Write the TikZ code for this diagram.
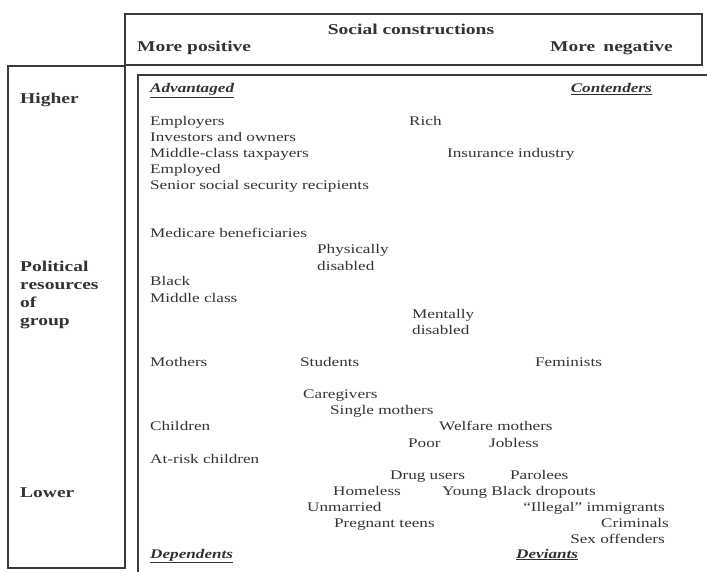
\documentclass[tikz,border=0pt]{standalone}
\usepackage{fontspec}
\setmainfont{Liberation Serif}[FakeStretch=1.3]
\definecolor{txt}{HTML}{333333}
\definecolor{ln}{HTML}{3A3A3A}
\tikzset{
  lbl/.style={anchor=base west, inner sep=0pt, text=txt, font=\fontsize{13.2}{16}\selectfont},
  lble/.style={lbl, anchor=base east},
  hd/.style={lbl, font=\fontsize{15}{18}\selectfont\bfseries},
  hde/.style={hd, anchor=base east},
  hdc/.style={hd, anchor=base},
  cat/.style={lbl, font=\fontsize{13.2}{16}\selectfont\bfseries\itshape},
  cate/.style={cat, anchor=base east},
  frame/.style={draw=ln, line width=1.1pt}
}
\newcommand{\ul}[1]{\underline{#1}}
\begin{document}
\begin{tikzpicture}[x=1pt,y=-1pt]
\useasboundingbox (0,0) rectangle (707,572);
% frames
\draw[frame] (125,14) rectangle (702,65);
\draw[frame] (8,66) rectangle (125,568);
\draw[frame] (707,75) -- (138,75) -- (138,572);
% header
\node[hdc] (sc) at (411,35) {Social constructions};
\node[hd] (mp) at (137,52) {More positive};
\node[hde] (mn) at (673,52) {More\hspace{0.55em}negative};
% left axis
\node[hd] (hi) at (20,104) {Higher};
\node[hd] (pr1) at (20,272) {Political};
\node[hd] (pr2) at (20,290) {resources};
\node[hd] (pr3) at (20,307) {of};
\node[hd] (pr4) at (20,325) {group};
\node[hd] (lo) at (20,497) {Lower};
% categories
\node[cat] (adv) at (150,93) {\ul{Advantaged}};
\node[cate] (con) at (652,93) {\ul{Contenders}};
\node[cat] (dep) at (150,558) {\ul{Dependents}};
\node[cat] (dev) at (516,558) {\ul{Deviants}};
% groups
\node[lbl] (g1) at (150,126) {Employers};
\node[lbl] (g2) at (150,142) {Investors and owners};
\node[lbl] (g3) at (150,158) {Middle-class taxpayers};
\node[lbl] (g4) at (150,174) {Employed};
\node[lbl] (g5) at (150,190) {Senior social security recipients};
\node[lbl] (g6) at (409,126) {Rich};
\node[lbl] (g7) at (447,158) {Insurance industry};
\node[lbl] (g8) at (150,238) {Medicare beneficiaries};
\node[lbl] (g9a) at (317,254) {Physically};
\node[lbl] (g9b) at (317,270) {disabled};
\node[lbl] (g10) at (150,286) {Black};
\node[lbl] (g11) at (150,302) {Middle class};
\node[lbl] (g12a) at (412,318) {Mentally};
\node[lbl] (g12b) at (412,334) {disabled};
\node[lbl] (g13) at (150,366) {Mothers};
\node[lbl] (g14) at (300,366) {Students};
\node[lbl] (g15) at (535,366) {Feminists};
\node[lbl] (g16) at (303,398) {Caregivers};
\node[lbl] (g17) at (330,414) {Single mothers};
\node[lbl] (g18) at (150,430) {Children};
\node[lbl] (g19) at (439,430) {Welfare mothers};
\node[lbl] (g20) at (408,447) {Poor};
\node[lbl] (g21) at (489,447) {Jobless};
\node[lbl] (g22) at (150,463) {At-risk children};
\node[lbl] (g23) at (390,479) {Drug users};
\node[lbl] (g24) at (510,479) {Parolees};
\node[lbl] (g25) at (333,495) {Homeless};
\node[lbl] (g26) at (442,495) {Young Black dropouts};
\node[lbl] (g27) at (307,511) {Unmarried};
\node[lble] (g28) at (665,511) {“Illegal” immigrants};
\node[lbl] (g29) at (334,527) {Pregnant teens};
\node[lble] (g30) at (669,527) {Criminals};
\node[lble] (g31) at (665,543) {Sex offenders};
\end{tikzpicture}
\end{document}
